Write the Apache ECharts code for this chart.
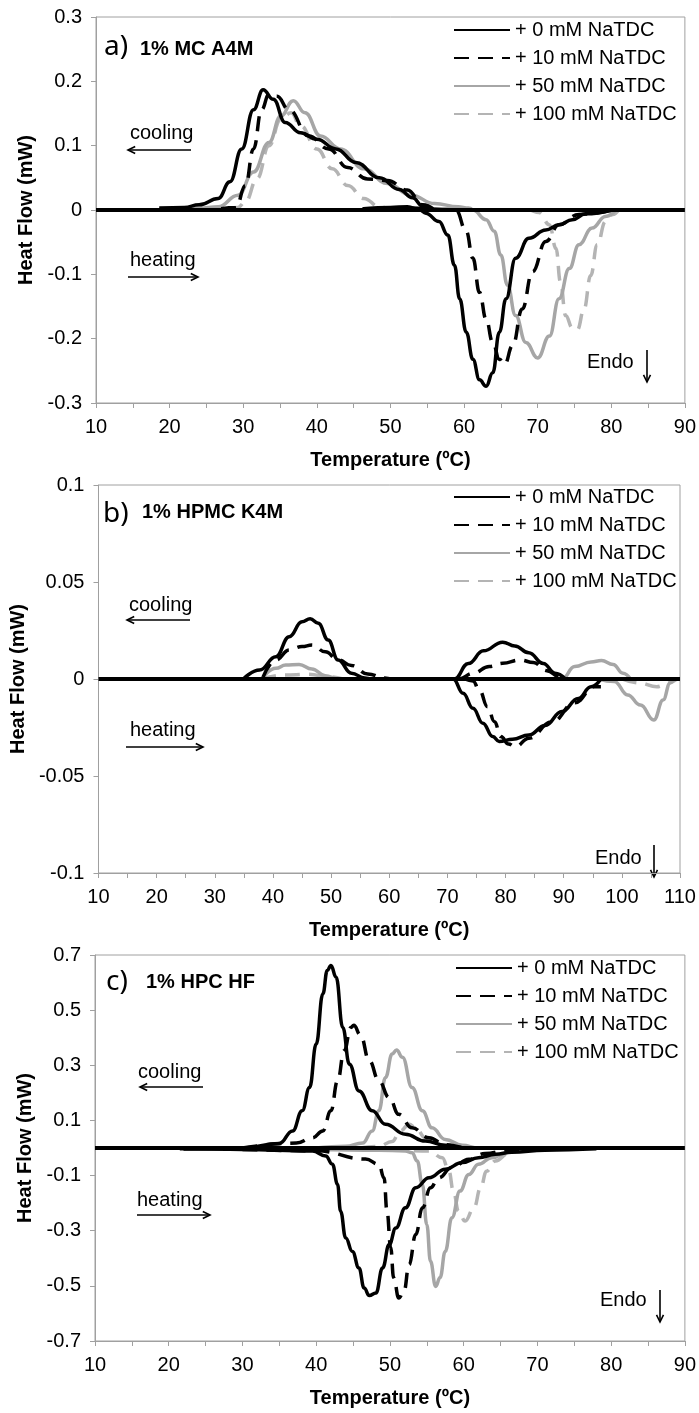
<!DOCTYPE html>
<html>
<head>
<meta charset="utf-8">
<script src="https://cdn.jsdelivr.net/npm/echarts@6/dist/echarts.min.js"></script>
<style>
  html, body { margin: 0; padding: 0; background: #fff; }
  #chart { width: 699px; height: 1413px; }
</style>
</head>
<body>
<div id="chart"></div>
<script>
// 图例名称
const names = ['+ 0 mM NaTDC', '+ 10 mM NaTDC', '+ 50 mM NaTDC', '+ 100 mM NaTDC'];
const panelTitles = ['1% MC A4M', '1% HPMC K4M', '1% HPC HF'];
const panelTags = ['a)', 'b)', 'c)'];

// 坐标轴范围 [min, max, interval]
const aX = [10, 90, 10], aY = [-0.3, 0.3, 0.1];
const bX = [10, 110, 10], bY = [-0.1, 0.1, 0.05];
const cX = [10, 90, 10], cY = [-0.7, 0.7, 0.2];

// a) 1% MC A4M  —  [temperature ºC, heat flow mW]
const a0Cool = [[18.6,0.003],[22,0.004],[24,0.008],[26.6,0.018],[28.2,0.044],[29.8,0.095],[31.4,0.156],[32.7,0.187],[34.1,0.172],[35.7,0.136],[37.8,0.12],[40,0.11],[42.6,0.095],[45.3,0.074],[48.5,0.05],[51.2,0.032],[53,0.019],[54.4,0.006],[55.2,0]];
const a10Cool = [[27,0.002],[29,0.004],[30.3,0.038],[31.4,0.095],[32.5,0.156],[33.5,0.18],[34.6,0.177],[36.2,0.156],[38.9,0.115],[41.6,0.095],[44.2,0.066],[46.9,0.048],[49.6,0.046],[52.3,0.031],[54.4,0.008],[56,0]];
const a50Cool = [[18.6,0.002],[24,0.003],[26.6,0.005],[29.3,0.023],[31.4,0.059],[33.5,0.105],[35.1,0.146],[36.8,0.17],[38.4,0.151],[40.5,0.115],[43.2,0.095],[46.4,0.064],[49.6,0.041],[52.8,0.023],[56,0.01],[59.2,0.005],[60.6,0.003],[61.2,0]];
const a100Cool = [[28,0.002],[29.3,0.004],[30.3,0.013],[31.9,0.049],[33.5,0.1],[35.1,0.141],[36.5,0.151],[37.8,0.131],[40,0.095],[42.1,0.064],[44.2,0.038],[46.4,0.018],[48.5,0.005],[50.1,0]];
const a0Heat = [[46.4,0.002],[50,0.004],[52.3,0.005],[54,0],[54.8,-0.005],[56.6,-0.018],[57.8,-0.039],[58.7,-0.086],[59.4,-0.138],[60.3,-0.19],[61.2,-0.232],[62.1,-0.264],[63,-0.274],[63.9,-0.253],[64.8,-0.19],[65.7,-0.138],[67,-0.075],[68.8,-0.044],[71.1,-0.031],[72.9,-0.023],[74.7,-0.015],[76.5,-0.006],[80.1,0]];
const a10Heat = [[46.2,0.002],[52,0.003],[58.9,0],[60.3,-0.033],[61.2,-0.075],[62.1,-0.128],[63,-0.17],[63.9,-0.206],[64.8,-0.232],[65.5,-0.24],[66.6,-0.211],[67.9,-0.154],[69.3,-0.096],[71.1,-0.049],[72.9,-0.023],[75.6,-0.007],[80.1,0]];
const a50Heat = [[47,0.001],[55,0.002],[60.6,0.002],[61.2,0],[63,-0.015],[64.1,-0.033],[65,-0.07],[65.9,-0.117],[67,-0.164],[68.4,-0.206],[70,-0.23],[71.6,-0.196],[72.9,-0.138],[74.3,-0.091],[75.6,-0.054],[77.4,-0.028],[79.2,-0.01],[80.6,0]];
const a100Heat = [[62,0],[68.8,0],[70.2,-0.004],[71.6,-0.023],[72.5,-0.06],[73.1,-0.112],[73.8,-0.164],[74.7,-0.183],[75.4,-0.186],[76.3,-0.154],[77.2,-0.102],[78.1,-0.054],[79.2,-0.018],[80.2,-0.007],[81,0]];

// b) 1% HPMC K4M
const b0Cool = [[34.9,0],[37.7,0.0046],[40.5,0.0115],[42.8,0.0218],[45,0.0295],[46.4,0.031],[47.8,0.0287],[49.5,0.0201],[51.2,0.0098],[53.5,0.003],[55.8,0.0005],[56.9,0],[71.2,0],[73.6,0.008],[76.2,0.0145],[79.5,0.019],[81.6,0.017],[84,0.0135],[86.5,0.008],[88.5,0.003],[90.3,0]];
const b10Cool = [[38.3,0.001],[40.5,0.0098],[42.8,0.015],[45,0.0167],[46.7,0.0175],[49,0.014],[51.2,0.01],[53.5,0.007],[56.3,0.0026],[59.2,0.0005],[60.3,0],[72,0],[74.4,0.0029],[77.2,0.0064],[79.5,0.0081],[82.5,0.0098],[84.8,0.0085],[87.1,0.0043],[89.4,0.001],[90.5,0]];
const b50Cool = [[38,0],[40.5,0.0055],[42.2,0.0072],[44.5,0.0075],[46.7,0.0052],[49,0.0017],[51.2,0],[89.7,0],[91.9,0.0064],[94.7,0.0088],[96.5,0.0095],[98.5,0.0075],[100.2,0.003],[101.5,0]];
const b100Cool = [[38,0],[42,0.002],[46,0.0025],[50,0.001],[52,0]];
const b0Heat = [[70,0],[71,0],[72.7,-0.0074],[74.4,-0.0151],[76.1,-0.0228],[77.8,-0.0297],[78.9,-0.0322],[81.2,-0.031],[84,-0.0289],[86.8,-0.024],[89.7,-0.0168],[92.5,-0.01],[94.7,-0.004],[96.4,0]];
const b10Heat = [[73,0],[74.4,-0.001],[75.5,-0.0057],[76.9,-0.0143],[78.1,-0.022],[79.2,-0.0297],[80.5,-0.0335],[81.7,-0.0349],[84,-0.0305],[88,-0.022],[91.9,-0.0122],[95.3,-0.004],[96.4,-0.004]];
const b50Heat = [[96,0],[98.7,-0.0013],[101,-0.0082],[103.2,-0.0134],[105.5,-0.0211],[107.1,-0.0108],[108.3,-0.002],[109,0]];
const b100Heat = [[100,0],[103,-0.002],[106,-0.004],[108,-0.002],[109.5,0]];

// c) 1% HPC HF
const c0Cool = [[21.5,-0.003],[30,0],[35,0.016],[36.8,0.062],[38.1,0.135],[39.1,0.219],[40,0.377],[40.9,0.559],[41.5,0.644],[42,0.662],[42.7,0.619],[43.6,0.437],[44.5,0.304],[45.8,0.207],[47.6,0.135],[49.4,0.086],[52.1,0.05],[54.8,0.025],[57.5,0.01],[60.2,0],[66,0]];
const c10Cool = [[30,0],[37.3,0.018],[39.5,0.037],[40.9,0.062],[42,0.135],[42.9,0.244],[43.8,0.353],[44.7,0.437],[45.1,0.445],[46,0.41],[47.2,0.316],[48.5,0.244],[49.9,0.183],[51.2,0.122],[53,0.073],[55.3,0.037],[57.5,0.012],[60.7,0],[66,0]];
const c50Cool = [[40,0],[44,0.006],[46.3,0.018],[47.6,0.062],[48.5,0.135],[49.4,0.256],[50.3,0.341],[50.9,0.355],[51.7,0.329],[53,0.219],[54.4,0.135],[55.7,0.073],[57.5,0.031],[59.8,0.01],[62,0],[66,0]];
const c100Cool = [[46,0],[48.5,0.006],[50.3,0.024],[51.4,0.062],[52.6,0.086],[53.5,0.073],[54.8,0.037],[56.2,0.006],[57.5,0]];
const c0Heat = [[22,-0.004],[30,-0.005],[39.5,-0.011],[41.3,-0.029],[42.2,-0.059],[42.9,-0.132],[43.3,-0.229],[44,-0.326],[44.9,-0.375],[45.8,-0.435],[46.5,-0.508],[47.2,-0.535],[48.1,-0.526],[49,-0.435],[49.9,-0.35],[50.8,-0.29],[52.1,-0.217],[53.5,-0.144],[55.3,-0.108],[57.5,-0.077],[59.8,-0.053],[62,-0.035],[64.3,-0.023],[66.5,-0.015],[71,-0.008],[78,-0.003]];
const c10Heat = [[30,-0.005],[40,-0.01],[46.7,-0.04],[48.5,-0.059],[49.2,-0.108],[49.6,-0.229],[50.1,-0.36],[50.5,-0.47],[51.2,-0.544],[51.9,-0.52],[52.6,-0.423],[53.5,-0.314],[54.4,-0.217],[55.5,-0.144],[56.6,-0.108],[58.4,-0.071],[60.7,-0.041],[62.9,-0.02],[66.5,-0.005],[70,0]];
const c50Heat = [[40,-0.005],[48.5,-0.008],[52.1,-0.011],[53,-0.017],[53.7,-0.047],[54.4,-0.132],[55,-0.278],[55.5,-0.411],[56.2,-0.502],[56.8,-0.47],[57.5,-0.375],[58.4,-0.253],[59.5,-0.156],[60.7,-0.096],[62,-0.059],[63.8,-0.035],[66.1,-0.015],[68.8,-0.005],[72,0]];
const c100Heat = [[50,-0.005],[55.3,-0.011],[57.1,-0.035],[58,-0.084],[58.6,-0.156],[59.3,-0.229],[60.2,-0.265],[61.4,-0.217],[62.3,-0.144],[63.1,-0.084],[64.3,-0.047],[66.1,-0.02],[67.9,-0.005],[70,0]];

const FONT = 'Liberation Sans, Arial, sans-serif';
const AXIS_GRAY = '#a0a0a0';
const DASH = [15, 9];
const lineStyles = [
  { color: '#000000', type: 'solid' },
  { color: '#000000', type: DASH },
  { color: '#a6a6a6', type: 'solid' },
  { color: '#b4b4b4', type: DASH }
];

// 三个面板的绘图区
const grids = [
  { left: 96, right: 12, top: 17, height: 386 },
  { left: 90, right: 19, top: 485, height: 388 },
  { left: 95, right: 12, top: 955, height: 386 }
];

function yFmt(v) {
  const r = Math.round(v * 1000) / 1000;
  return r === 0 ? '0' : String(r);
}

function makeX(i, r) {
  return {
    type: 'value', gridIndex: i, min: r[0], max: r[1], interval: r[2],
    axisLine: { onZero: false, lineStyle: { color: AXIS_GRAY, width: 1 } },
    axisTick: { length: 5, lineStyle: { color: AXIS_GRAY } },
    minorTick: { show: true, splitNumber: 2, length: 5, lineStyle: { color: AXIS_GRAY } },
    splitLine: { show: false },
    axisLabel: { color: '#000', fontSize: 20, fontFamily: FONT, margin: 14 },
    name: 'Temperature (ºC)', nameLocation: 'middle', nameGap: 47,
    nameTextStyle: { color: '#000', fontSize: 20, fontWeight: 'bold', fontFamily: FONT }
  };
}

function makeY(i, r, gap) {
  return {
    type: 'value', gridIndex: i, min: r[0], max: r[1], interval: r[2],
    axisLine: { show: true, onZero: false, lineStyle: { color: AXIS_GRAY, width: 1 } },
    axisTick: { show: true, length: 5, lineStyle: { color: AXIS_GRAY } },
    splitLine: { show: false },
    axisLabel: { color: '#000', fontSize: 20, fontFamily: FONT, margin: 14, formatter: yFmt },
    name: 'Heat Flow (mW)', nameLocation: 'middle', nameGap: gap,
    nameTextStyle: { color: '#000', fontSize: 20, fontWeight: 'bold', fontFamily: FONT }
  };
}

// 每个面板：冷却 + 加热曲线，再加一条 0 线
function panelSeries(i, cools, heats, xr) {
  const out = [];
  for (let k = 3; k >= 0; k--) {
    [cools[k], heats[k]].forEach(d => {
      out.push({
        name: names[k], type: 'line', xAxisIndex: i, yAxisIndex: i, data: d,
        symbol: 'none', showSymbol: false, smooth: 0.45, smoothMonotone: 'x',
        lineStyle: { color: lineStyles[k].color, width: 3.5, type: lineStyles[k].type },
        itemStyle: { color: lineStyles[k].color },
        z: 2 + (3 - k), silent: true
      });
    });
  }
  out.push({
    name: 'zero', type: 'line', xAxisIndex: i, yAxisIndex: i,
    data: [[xr[0], 0], [xr[1], 0]], symbol: 'none', silent: true,
    lineStyle: { color: '#000', width: 4 }, z: 10
  });
  return out;
}

// 图例只画线，不画圆点
function makeLegend(top, left) {
  return {
    data: names, orient: 'vertical', left: left, top: top, padding: 0,
    itemWidth: 56, itemHeight: 14, itemGap: 6, selectedMode: false,
    itemStyle: { color: 'rgba(0,0,0,0)', borderWidth: 0, opacity: 0 },
    textStyle: { color: '#000', fontSize: 20, fontFamily: FONT, lineHeight: 22 }
  };
}

// 注释文字和箭头
function txt(x, y, text, size, weight, family) {
  return { type: 'text', x: x, y: y, silent: true,
    style: { text: text, fontSize: size, fontWeight: weight || 'normal',
      fontFamily: family || FONT, fill: '#000', verticalAlign: 'middle', align: 'left' } };
}
function arrow(x1, y1, x2, y2) {
  const ang = Math.atan2(y2 - y1, x2 - x1), h = 8, w = 0.45;
  const p1 = [x2 - h * Math.cos(ang - w), y2 - h * Math.sin(ang - w)];
  const p2 = [x2 - h * Math.cos(ang + w), y2 - h * Math.sin(ang + w)];
  return [
    { type: 'line', silent: true, shape: { x1: x1, y1: y1, x2: x2, y2: y2 }, style: { stroke: '#000', lineWidth: 1.6 } },
    { type: 'polyline', silent: true, shape: { points: [p1, [x2, y2], p2] }, style: { stroke: '#000', lineWidth: 1.6, fill: null } }
  ];
}

const notes = [
  txt(104, 47, panelTags[0], 28, 'normal', 'Noto Sans'),
  txt(140, 49, panelTitles[0], 20, 'bold'),
  txt(130, 133, 'cooling', 20), ...arrow(191, 150, 128, 150),
  txt(130, 260, 'heating', 20), ...arrow(128, 277, 198, 277),
  txt(587, 362, 'Endo', 20), ...arrow(647, 350, 647, 382),

  txt(103, 514, panelTags[1], 28, 'normal', 'Noto Sans'),
  txt(142, 512, panelTitles[1], 20, 'bold'),
  txt(129, 605, 'cooling', 20), ...arrow(190, 620, 127, 620),
  txt(130, 730, 'heating', 20), ...arrow(126, 747, 203, 747),
  txt(595, 858, 'Endo', 20), ...arrow(654, 845, 654, 877),

  txt(106, 982, panelTags[2], 28, 'normal', 'Noto Sans'),
  txt(146, 982, panelTitles[2], 20, 'bold'),
  txt(138, 1072, 'cooling', 20), ...arrow(203, 1087, 140, 1087),
  txt(137, 1200, 'heating', 20), ...arrow(137, 1215, 210, 1215),
  txt(600, 1300, 'Endo', 20), ...arrow(660, 1290, 660, 1322)
];

const chart = echarts.init(document.getElementById('chart'));
chart.setOption({
  animation: false,
  backgroundColor: '#fff',
  grid: grids.map(g => Object.assign({ show: true, borderColor: AXIS_GRAY, borderWidth: 1 }, g)),
  xAxis: [makeX(0, aX), makeX(1, bX), makeX(2, cX)],
  yAxis: [makeY(0, aY, 59), makeY(1, bY, 57), makeY(2, cY, 59)],
  legend: [makeLegend(19, 453), makeLegend(486, 453), makeLegend(957, 455)],
  series: [
    ...panelSeries(0, [a0Cool, a10Cool, a50Cool, a100Cool], [a0Heat, a10Heat, a50Heat, a100Heat], aX),
    ...panelSeries(1, [b0Cool, b10Cool, b50Cool, b100Cool], [b0Heat, b10Heat, b50Heat, b100Heat], bX),
    ...panelSeries(2, [c0Cool, c10Cool, c50Cool, c100Cool], [c0Heat, c10Heat, c50Heat, c100Heat], cX)
  ],
  graphic: notes
});
</script>
</body>
</html>
